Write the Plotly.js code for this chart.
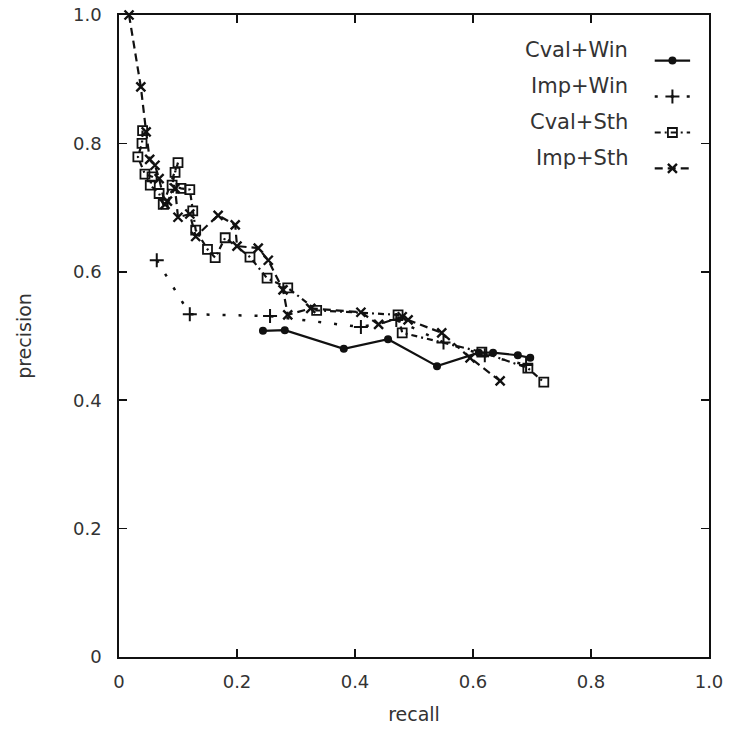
<!DOCTYPE html>
<html>
<head>
<meta charset="utf-8">
<script src="https://cdn.plot.ly/plotly-3.0.1.min.js"></script>
<style>html,body{margin:0;padding:0;background:#fff;}#chart{width:731px;height:731px;}</style>
</head>
<body>
<div id="chart"></div>
<script>
// ---- data (recall, precision) ----
const seriesNames = ["Cval+Win", "Imp+Win", "Cval+Sth", "Imp+Sth"];

const cvalWinRecall    = [0.244, 0.281, 0.381, 0.456, 0.539, 0.610, 0.634, 0.676, 0.697];
const cvalWinPrecision = [0.508, 0.509, 0.480, 0.495, 0.453, 0.474, 0.474, 0.470, 0.466];

const impWinRecall    = [0.064, 0.120, 0.256, 0.410, 0.470, 0.550, 0.620, 0.690];
const impWinPrecision = [0.618, 0.534, 0.531, 0.514, 0.525, 0.490, 0.470, 0.455];

const cvalSthRecall    = [0.040, 0.039, 0.032, 0.044, 0.056, 0.053, 0.068, 0.075, 0.100, 0.095, 0.090, 0.105, 0.120, 0.125, 0.130, 0.150, 0.163, 0.180, 0.222, 0.251, 0.286, 0.335, 0.473, 0.480, 0.615, 0.693, 0.720];
const cvalSthPrecision = [0.820, 0.800, 0.779, 0.752, 0.748, 0.735, 0.722, 0.705, 0.770, 0.755, 0.735, 0.730, 0.728, 0.695, 0.665, 0.635, 0.622, 0.653, 0.623, 0.590, 0.575, 0.540, 0.533, 0.505, 0.475, 0.450, 0.428];

const impSthRecall    = [0.017, 0.037, 0.046, 0.052, 0.061, 0.068, 0.078, 0.082, 0.095, 0.100, 0.120, 0.130, 0.168, 0.197, 0.200, 0.236, 0.253, 0.278, 0.286, 0.325, 0.410, 0.440, 0.480, 0.490, 0.547, 0.595, 0.646];
const impSthPrecision = [1.000, 0.888, 0.818, 0.775, 0.766, 0.745, 0.705, 0.710, 0.730, 0.685, 0.690, 0.655, 0.688, 0.673, 0.640, 0.637, 0.618, 0.572, 0.533, 0.543, 0.537, 0.518, 0.530, 0.525, 0.505, 0.466, 0.430];

const tickValues = [0, 0.2, 0.4, 0.6, 0.8, 1.0];
const tickLabels = ["0", "0.2", "0.4", "0.6", "0.8", "1.0"];

// ---- styles ----
const ink = "#111";
const fontFamily = "DejaVu Sans, Liberation Sans, sans-serif";
const styles = [
  {line: {color: ink, width: 2.2, dash: "solid"},           marker: {symbol: "circle", size: 8, color: ink}},
  {line: {color: ink, width: 2.5, dash: "3px,13px"},        marker: {symbol: "cross-thin-open", size: 10, color: ink, line: {width: 2, color: ink}}},
  {line: {color: ink, width: 2.2, dash: "6px,4px,2px,4px"}, marker: {symbol: "square-open", size: 9, color: ink, line: {width: 1.8, color: ink}}},
  {line: {color: ink, width: 2.2, dash: "8px,5px"},         marker: {symbol: "x-thin-open", size: 9, color: ink, line: {width: 2.4, color: ink}}}
];
const xs = [cvalWinRecall, impWinRecall, cvalSthRecall, impSthRecall];
const ys = [cvalWinPrecision, impWinPrecision, cvalSthPrecision, impSthPrecision];

const traces = [];
for (let i = 0; i < 4; i++) {
  traces.push({
    type: "scatter", mode: "lines+markers", name: seriesNames[i],
    x: xs[i], y: ys[i], line: styles[i].line, marker: styles[i].marker,
    showlegend: false, cliponaxis: false
  });
}

// ---- manual legend (text left, sample right) in an overlay 0..1 frame ----
const legTextX = 0.866, legSampleX0 = 0.908, legSampleX1 = 0.968;
const legTop = 0.945, legStep = 0.056, sampleDrop = 0.016;
const annotations = [];
for (let i = 0; i < 4; i++) {
  const yText = legTop - i * legStep;
  const ySample = yText - sampleDrop;
  annotations.push({
    xref: "x2", yref: "y2", x: legTextX, y: yText, text: seriesNames[i],
    showarrow: false, xanchor: "right", yanchor: "middle",
    font: {family: fontFamily, size: 21, color: "#333"}
  });
  traces.push({
    type: "scatter", mode: "lines", xaxis: "x2", yaxis: "y2",
    x: [legSampleX0, legSampleX1], y: [ySample, ySample],
    line: styles[i].line, showlegend: false, hoverinfo: "skip"
  });
  traces.push({
    type: "scatter", mode: "markers", xaxis: "x2", yaxis: "y2",
    x: [(legSampleX0 + legSampleX1) / 2], y: [ySample],
    marker: styles[i].marker, showlegend: false, hoverinfo: "skip"
  });
}

const tickFont = {family: fontFamily, size: 18, color: "#333"};
const titleFont = {family: fontFamily, size: 19, color: "#333"};
const axisCommon = {
  range: [0, 1], tickvals: tickValues, ticktext: tickLabels,
  ticks: "inside", ticklen: 8, tickwidth: 1.6, tickcolor: ink,
  showline: true, linecolor: ink, linewidth: 1.8, mirror: "ticks",
  showgrid: false, zeroline: false, tickfont: tickFont, fixedrange: true
};

const layout = {
  width: 731, height: 731,
  margin: {l: 119, r: 22, t: 15, b: 74},
  paper_bgcolor: "#fff", plot_bgcolor: "#fff",
  showlegend: false,
  xaxis: Object.assign({}, axisCommon, {
    title: {text: "recall", font: titleFont, standoff: 16},
    ticklabelstandoff: 8
  }),
  yaxis: Object.assign({}, axisCommon, {
    title: {text: "precision", font: titleFont, standoff: 36},
    ticklabelstandoff: 12
  }),
  xaxis2: {overlaying: "x", range: [0, 1], visible: false, fixedrange: true},
  yaxis2: {overlaying: "y", range: [0, 1], visible: false, fixedrange: true},
  annotations: annotations
};

Plotly.newPlot("chart", traces, layout, {displayModeBar: false, staticPlot: true});
</script>
</body>
</html>
